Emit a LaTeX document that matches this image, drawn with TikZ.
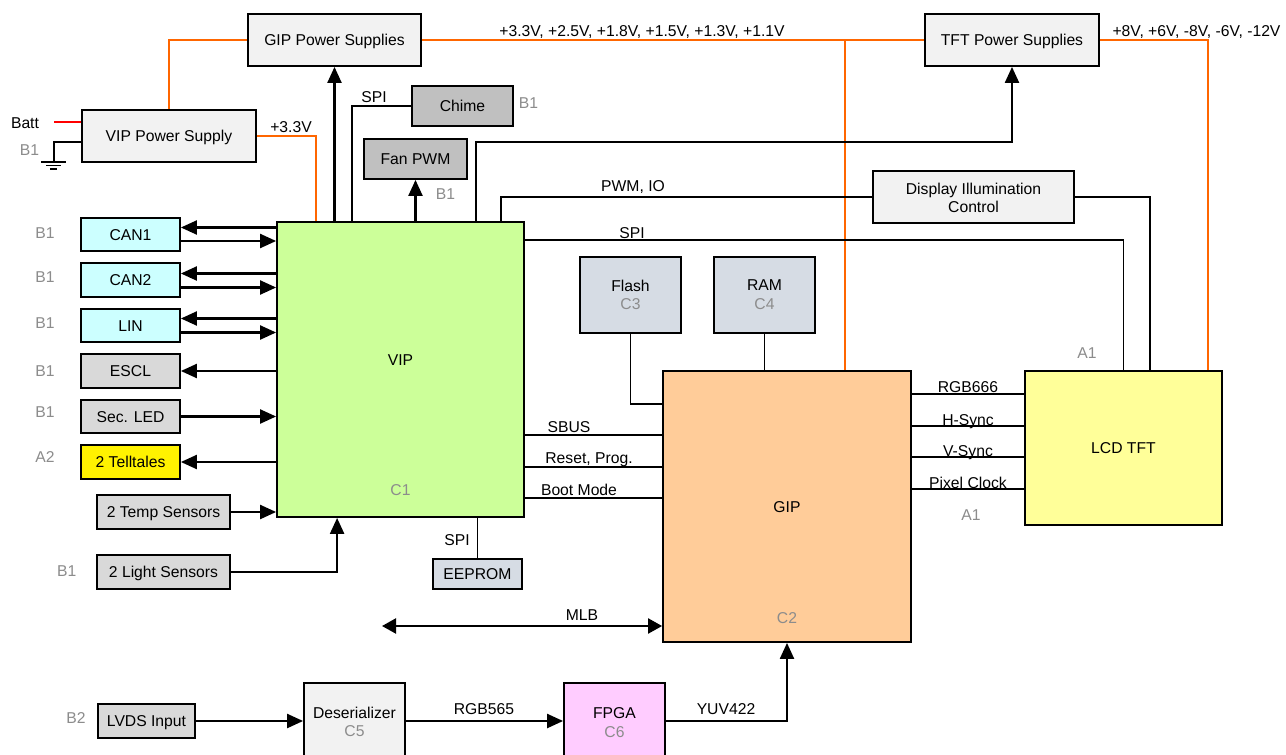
\documentclass[tikz,border=0pt]{standalone}
\usepackage{fontspec}
\setmainfont{Liberation Sans}
\usetikzlibrary{arrows.meta,calc}
\definecolor{psgray}{HTML}{F2F2F2}
\definecolor{dkgray}{HTML}{C0C0C0}
\definecolor{mdgray}{HTML}{D9D9D9}
\definecolor{cancyan}{HTML}{CCFFFF}
\definecolor{vipgreen}{HTML}{CCFF99}
\definecolor{memblue}{HTML}{D6DCE4}
\definecolor{giporange}{HTML}{FFCC99}
\definecolor{lcdyellow}{HTML}{FFFF99}
\definecolor{fpgapink}{HTML}{FFCCFF}
\definecolor{pworange}{HTML}{FF6600}
\definecolor{labgray}{HTML}{8C8C8C}
\newcommand\fs{\fontsize{15.7}{18}\selectfont}
\tikzset{
  box/.style={draw=black, line width=1.8pt, inner sep=0pt, font=\fs, text height=11.2pt, text depth=0pt},
  txt/.style={inner sep=0pt, font=\fs, text height=11.2pt, text depth=0pt},
  lbl/.style={txt, text=labgray},
  ln/.style={line width=1.6pt},
  arr/.style={line width=2.2pt, -{Triangle[length=16pt,width=14pt]}},
  dbl/.style={line width=2.2pt, {Triangle[length=14pt,width=15pt]}-{Triangle[length=14pt,width=15pt]}},
  pw/.style={line width=1.8pt, draw=pworange},
}
\begin{document}
\begin{tikzpicture}[x=1pt,y=-1pt]
\useasboundingbox (0,0) rectangle (1286,755);
\clip (0,0) rectangle (1286,755);
\fill[white] (0,0) rectangle (1286,755);

% boxes
\node[box, fill=psgray, minimum width=173pt, minimum height=52pt] (gipps) at (334.5,40) {GIP Power Supplies};
\node[box, fill=psgray, minimum width=174pt, minimum height=52pt] (tftps) at (1012,40) {TFT Power Supplies};
\node[box, fill=psgray, minimum width=174pt, minimum height=52pt] (vipps) at (169,136) {VIP Power Supply};
\node[box, fill=dkgray, minimum width=101pt, minimum height=40pt] (chime) at (462.5,106) {Chime};
\node[box, fill=dkgray, minimum width=103pt, minimum height=40pt] (fan) at (415.5,159) {Fan PWM};
\node[box, fill=psgray, minimum width=201pt, minimum height=52pt] (dic) at (973.5,197) {};
\node[txt] (dict1) at (973.5,189) {Display Illumination};
\node[txt] (dict2) at (973.5,206.7) {Control};
\node[box, fill=vipgreen, minimum width=247pt, minimum height=295pt] (vip) at (400.5,369.5) {};
\node[txt] (viptxt) at (400.5,360) {VIP};
\node[lbl] (c1) at (400.5,490) {C1};
\node[box, fill=cancyan, minimum width=99pt, minimum height=33.5pt] (can1) at (130.5,234.5) {CAN1};
\node[box, fill=cancyan, minimum width=99pt, minimum height=33.5pt] (can2) at (130.5,280) {CAN2};
\node[box, fill=cancyan, minimum width=99pt, minimum height=33.5pt] (lin) at (130.5,325.5) {LIN};
\node[box, fill=mdgray, minimum width=99pt, minimum height=33.5pt] (escl) at (130.5,371) {ESCL};
\node[box, fill=mdgray, minimum width=99pt, minimum height=33.5pt] (secled) at (130.5,416.5) {Sec. LED};
\node[box, fill=yellow, minimum width=99pt, minimum height=33.5pt] (tell) at (130.5,462) {2 Telltales};
\node[box, fill=mdgray, minimum width=133pt, minimum height=34pt] (temp) at (163.5,512) {2 Temp Sensors};
\node[box, fill=mdgray, minimum width=133pt, minimum height=34pt] (light) at (163.5,572) {2 Light Sensors};
\node[box, fill=memblue, minimum width=89pt, minimum height=30pt] (eeprom) at (477.5,574) {EEPROM};
\node[box, fill=memblue, minimum width=101pt, minimum height=76pt] (flash) at (630.5,295) {};
\node[txt] (flasht) at (630.5,286) {Flash};
\node[lbl] (c3) at (630.5,304.3) {C3};
\node[box, fill=memblue, minimum width=101pt, minimum height=76pt] (ram) at (764.5,295) {};
\node[txt] (ramt) at (764.5,285) {RAM};
\node[lbl] (c4) at (764.5,304.3) {C4};
\node[box, fill=giporange, minimum width=248pt, minimum height=271pt] (gip) at (787,506.5) {};
\node[txt] (gipt) at (787,506.7) {GIP};
\node[lbl] (c2) at (787,617.7) {C2};
\node[box, fill=lcdyellow, minimum width=197pt, minimum height=154pt] (lcd) at (1123.5,448) {LCD TFT};
\node[box, fill=mdgray, minimum width=97pt, minimum height=34pt] (lvds) at (146.5,721) {LVDS Input};
\node[box, fill=psgray, minimum width=101pt, minimum height=87pt] (des) at (354.5,726.5) {};
\node[txt] (dest) at (354.5,712.7) {Deserializer};
\node[lbl] (c5) at (354.5,730.7) {C5};
\node[box, fill=fpgapink, minimum width=101pt, minimum height=87pt] (fpga) at (614.5,726.5) {};
\node[txt] (fpgat) at (614.5,712.7) {FPGA};
\node[lbl] (c6) at (614.5,731.7) {C6};

% power (orange)
\draw[pw] (vipps.north) |- (gipps.west);
\draw[pw] (vipps.east) -| ($(vip.north west)+(40,0)$);
\node[txt] (v33) at (291,127) {+3.3V};
\draw[pw] (gipps.east) -- (tftps.west);
\coordinate (gtop) at ($(gip.north east)+(-67,0)$);
\draw[pw] (gtop |- gipps.east) -- (gtop);
\node[txt] (gipv) at (642,31) {+3.3V, +2.5V, +1.8V, +1.5V, +1.3V, +1.1V};
\draw[pw] (tftps.east) -| ($(lcd.north east)+(-15,0)$);
\node[txt] (tftv) at (1196.5,31) {+8V, +6V, -8V, -6V, -12V};

% battery and ground
\coordinate (battend) at ($(vipps.west)+(-27,-14)$);
\draw[line width=1.8pt, red] (battend) -- (battend -| vipps.west);
\node[txt] (batt) at (25,123) {Batt};
\coordinate (gnd) at ($(vipps.west)+(-27,26)$);
\draw[ln] ($(vipps.west)+(0,6)$) -| (gnd);
\draw[ln] ($(gnd)+(-13,0)$) -- ($(gnd)+(12,0)$);
\draw[ln] ($(gnd)+(-8,3.5)$) -- ($(gnd)+(7,3.5)$);
\draw[ln] ($(gnd)+(-4,6.8)$) -- ($(gnd)+(3,6.8)$);
\node[lbl] (b1g) at (29.5,150) {B1};

% top connections
\draw[arr] (gipps.south |- vip.north) -- (gipps.south);
\draw[arr] (fan.south |- vip.north) -- (fan.south);
\node[lbl] (b1f) at (445.5,194) {B1};
\draw[ln] ($(vip.north west)+(76,0)$) |- (chime.west);
\node[txt] (spi1) at (374,97) {SPI};
\node[lbl] (b1c) at (528.5,103) {B1};
\draw[arr] ($(vip.north west)+(200,0)$) |- ($(tftps.south)+(0,75)$) -- (tftps.south);
\draw[ln] ($(vip.north west)+(225,0)$) |- (dic.west);
\node[txt] (pwmio) at (633,186) {PWM, IO};
\draw[ln] (dic.east) -| ($(lcd.north west)+(126,0)$);
\draw[ln] ($(vip.north east)+(0,19)$) -| (lcd.north);
\node[txt] (spi2) at (632,233) {SPI};
\node[lbl] (a1t) at (1087,353) {A1};

% memories
\draw[ln] (flash.south) |- ($(gip.north west)+(0,34)$);
\draw[ln] (ram.south) -- (ram.south |- gip.north);
\draw[ln] (eeprom.north |- vip.south) -- (eeprom.north);
\node[txt] (spi3) at (457,540) {SPI};

% VIP - GIP
\coordinate (sb) at ($(vip.north east)+(0,214)$);
\draw[ln] (sb) -- (sb -| gip.west);
\node[txt] (sbus) at (569,427) {SBUS};
\coordinate (rp) at ($(vip.north east)+(0,246)$);
\draw[ln] (rp) -- (rp -| gip.west);
\node[txt] (rst) at (589,458) {Reset, Prog.};
\coordinate (bm) at ($(vip.north east)+(0,277)$);
\draw[ln] (bm) -- (bm -| gip.west);
\node[txt] (boot) at (579,490) {Boot Mode};

% GIP - LCD
\coordinate (r6) at ($(gip.north east)+(0,24)$);
\draw[ln] (r6) -- (r6 -| lcd.west);
\node[txt] (rgb666) at (968,387) {RGB666};
\coordinate (hs) at ($(gip.north east)+(0,56)$);
\draw[ln] (hs) -- (hs -| lcd.west);
\node[txt] (hsync) at (968,420) {H-Sync};
\coordinate (vs) at ($(gip.north east)+(0,87)$);
\draw[ln] (vs) -- (vs -| lcd.west);
\node[txt] (vsync) at (968,451) {V-Sync};
\coordinate (pc) at ($(gip.north east)+(0,119)$);
\draw[ln] (pc) -- (pc -| lcd.west);
\node[txt] (pclk) at (968,483) {Pixel Clock};
\node[lbl] (a1b) at (971,515) {A1};

% left side
\coordinate (k1a) at ($(can1.east)+(0,-7)$);
\coordinate (k1b) at ($(can1.east)+(0,6.5)$);
\draw[arr] (k1a -| vip.west) -- (k1a);
\draw[arr] (k1b) -- (k1b -| vip.west);
\coordinate (k2a) at ($(can2.east)+(0,-6.5)$);
\coordinate (k2b) at ($(can2.east)+(0,7.5)$);
\draw[arr] (k2a -| vip.west) -- (k2a);
\draw[arr] (k2b) -- (k2b -| vip.west);
\coordinate (l1a) at ($(lin.east)+(0,-7)$);
\coordinate (l1b) at ($(lin.east)+(0,7)$);
\draw[arr] (l1a -| vip.west) -- (l1a);
\draw[arr] (l1b) -- (l1b -| vip.west);
\draw[arr] (escl.east -| vip.west) -- (escl.east);
\draw[arr] (secled.east) -- (secled.east -| vip.west);
\draw[arr] (tell.east -| vip.west) -- (tell.east);
\draw[arr] (temp.east) -- (temp.east -| vip.west);
\draw[arr] (light.east) -| ($(vip.south west)+(61,0)$);
\node[lbl] (b1a) at (45,233) {B1};
\node[lbl] (b1b) at (45,277) {B1};
\node[lbl] (b1l) at (45,323) {B1};
\node[lbl] (b1e) at (45,371) {B1};
\node[lbl] (b1s) at (45,412) {B1};
\node[lbl] (a2) at (45,457) {A2};
\node[lbl] (b1ls) at (66.7,571) {B1};

% MLB
\coordinate (mlbl) at (382,626);
\draw[dbl] (mlbl) -- (mlbl -| gip.west);
\node[txt] (mlb) at (582,615) {MLB};

% video input chain
\node[lbl] (b2) at (76,718) {B2};
\draw[arr] (lvds.east) -- (lvds.east -| des.west);
\coordinate (vid) at (des.east |- lvds.east);
\draw[arr] (vid) -- (vid -| fpga.west);
\node[txt] (rgb565) at (484,709) {RGB565};
\draw[arr] (fpga.east |- lvds.east) -| (gip.south);
\node[txt] (yuv) at (726,709) {YUV422};
\end{tikzpicture}
\end{document}
